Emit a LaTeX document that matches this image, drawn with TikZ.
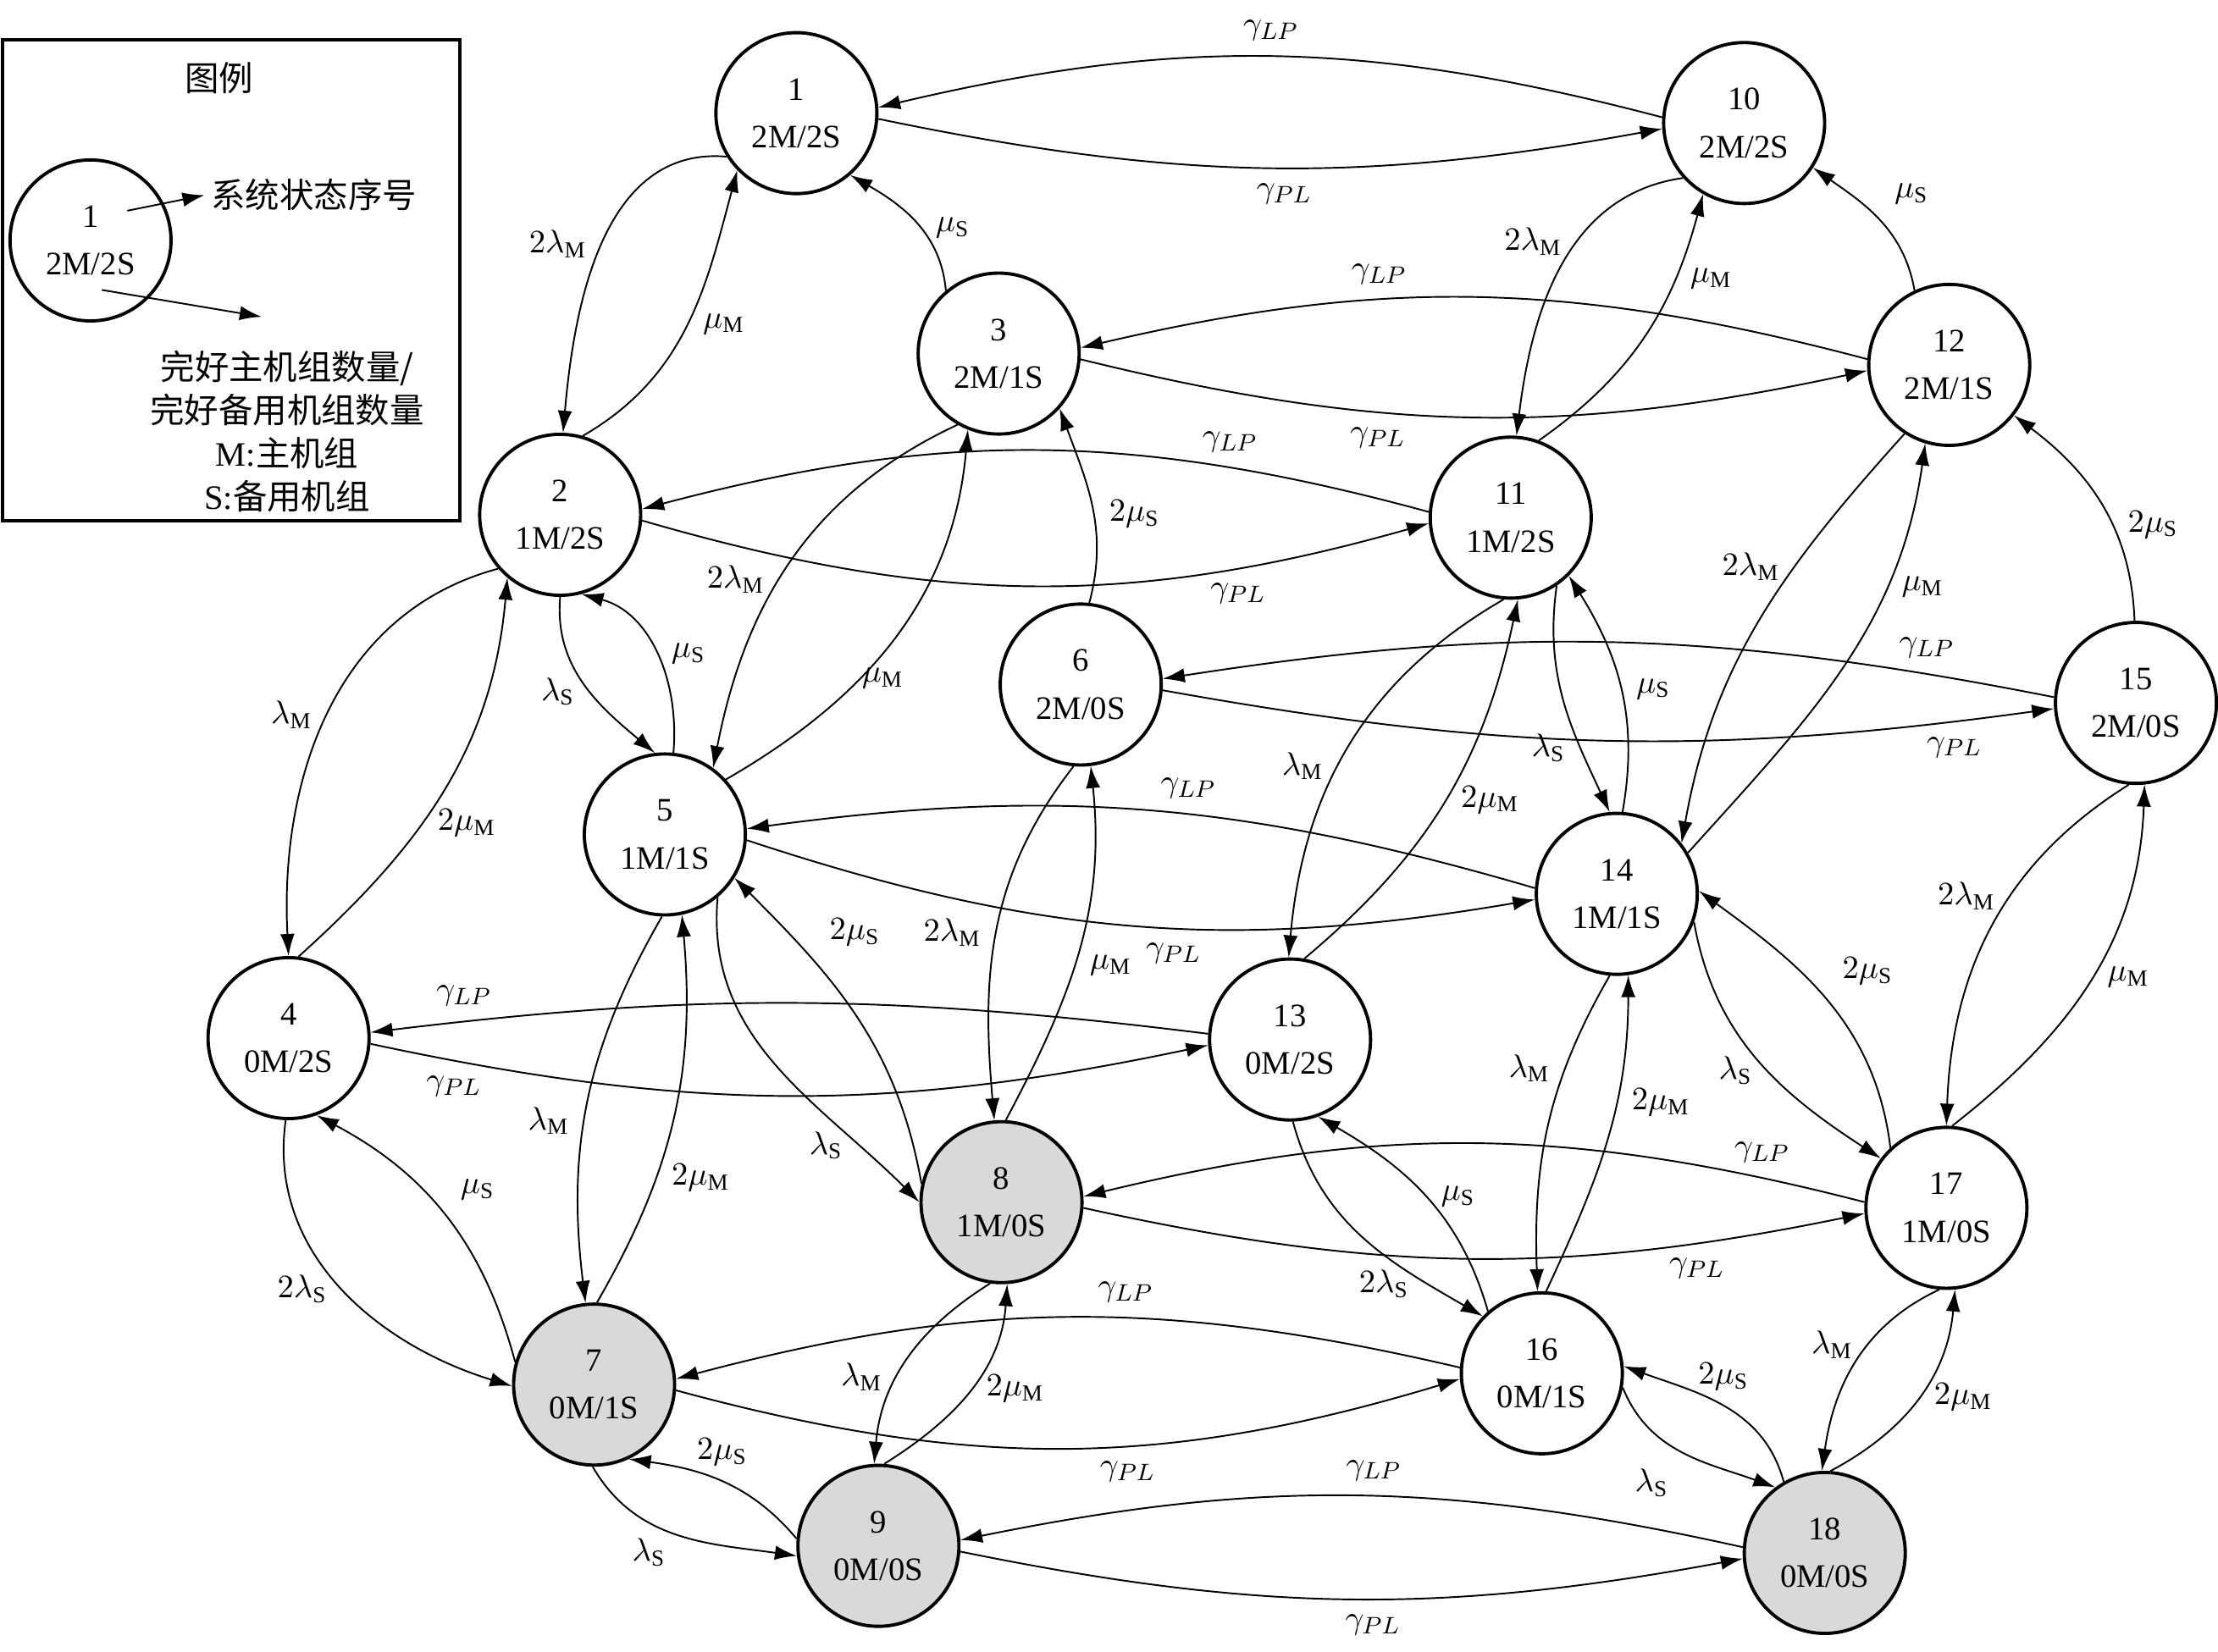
\documentclass[tikz,border=0pt]{standalone}
\usepackage{fontspec}
\setmainfont{Liberation Serif}
\newfontfamily\cjk{Noto Sans CJK SC}
\usetikzlibrary{arrows.meta}

\begin{document}
\begin{tikzpicture} [x=0.0167cm, y=-0.0167cm, >={Latex[length=2.6mm, width=1.7mm]}, line width=0.55pt,
	font=\fontsize{11}{13}\selectfont, inner sep=5pt,
	state/.style={draw, circle, line width=1.1pt, minimum size=1.9cm, inner sep=0pt, align=center, font=\fontsize{11}{16}\selectfont},
	failed/.style={state, fill=black!15}]
	%\draw [thin, help lines] (0,0) grid[step=100] (1568,1168);
	\useasboundingbox (0,0) rectangle (1568,1168);

	% legend
	\draw[line width=1.2pt] (2,28) rectangle (325,368);
	\node [inner sep=0pt] (lgtitle) at (155,55) {\cjk\fontsize{11.5}{14}\selectfont 图例};
	\node [state] (lgstate) at (64,170) {1\\2M/2S};
	\node [inner sep=2pt] (lgnum) at (222,138) {\cjk\fontsize{11.5}{14}\selectfont 系统状态序号};
	\node [inner sep=0pt, align=center, font=\fontsize{11.5}{14.5}\selectfont] (lgtext) at (203,305)
		{{\cjk 完好主机组数量/}\\{\cjk 完好备用机组数量}\\M:{\cjk 主机组}\\S:{\cjk 备用机组}};
	\coordinate (lga) at (90,149);
	\coordinate (lgb) at (72,205);
	\coordinate (lgc) at (185,224);
	\draw[->] (lga) -- (lgnum.west);
	\draw[->] (lgb) -- (lgc);

	% states
	\node [state] (n1) at (563,80) {1\\2M/2S};
	\node [state] (n2) at (396,364) {2\\1M/2S};
	\node [state] (n3) at (706,250) {3\\2M/1S};
	\node [state] (n4) at (204,734) {4\\0M/2S};
	\node [state] (n5) at (470,590) {5\\1M/1S};
	\node [state] (n6) at (764,484) {6\\2M/0S};
	\node [failed] (n7) at (420,979) {7\\0M/1S};
	\node [failed] (n8) at (708,850) {8\\1M/0S};
	\node [failed] (n9) at (621,1093) {9\\0M/0S};
	\node [state] (n10) at (1233,87) {10\\2M/2S};
	\node [state] (n11) at (1068,366) {11\\1M/2S};
	\node [state] (n12) at (1378,258) {12\\2M/1S};
	\node [state] (n13) at (912,735) {13\\0M/2S};
	\node [state] (n14) at (1143,632) {14\\1M/1S};
	\node [state] (n15) at (1510,497) {15\\2M/0S};
	\node [state] (n16) at (1090,971) {16\\0M/1S};
	\node [state] (n17) at (1376,854) {17\\1M/0S};
	\node [failed] (n18) at (1290,1098) {18\\0M/0S};

	% gamma transitions
	\draw[->] (n10.176) to[bend right=14] node [pos=0.5, above] {$\gamma_{LP}$} (n1.4);
	\draw[->] (n1.-4) to[bend right=11] node [pos=0.52, below] {$\gamma_{PL}$} (n10.184);
	\draw[->] (n12.176) to[bend right=14] node [pos=0.63, above] {$\gamma_{LP}$} (n3.4);
	\draw[->] (n3.-4) to[bend right=13] node [pos=0.37, below] {$\gamma_{PL}$} (n12.184);
	\draw[->] (n11.176) to[bend right=15] node [pos=0.24, above] {$\gamma_{LP}$} (n2.4);
	\draw[->] (n2.-4) to[bend right=16] node [pos=0.77, below] {$\gamma_{PL}$} (n11.184);
	\draw[->] (n15.176) to[bend right=10] node [pos=0.13, above] {$\gamma_{LP}$} (n6.4);
	\draw[->] (n6.-4) to[bend right=9] node [pos=0.9, below] {$\gamma_{PL}$} (n15.184);
	\draw[->] (n14.176) to[bend right=12] node [pos=0.44, above] {$\gamma_{LP}$} (n5.4);
	\draw[->] (n5.-4) to[bend right=14] node [pos=0.55, below] {$\gamma_{PL}$} (n14.184);
	\draw[->] (n13.176) to[bend right=7] node [pos=0.9, above] {$\gamma_{LP}$} (n4.4);
	\draw[->] (n4.-4) to[bend right=12] node [pos=0.09, below] {$\gamma_{PL}$} (n13.184);
	\draw[->] (n17.176) to[bend right=14] node [pos=0.12, above] {$\gamma_{LP}$} (n8.4);
	\draw[->] (n8.-4) to[bend right=12] node [pos=0.8, below] {$\gamma_{PL}$} (n17.184);
	\draw[->] (n16.176) to[bend right=14] node [pos=0.42, above] {$\gamma_{LP}$} (n7.4);
	\draw[->] (n7.-4) to[bend right=16] node [pos=0.58, below] {$\gamma_{PL}$} (n16.184);
	\draw[->] (n18.176) to[bend right=12] node [pos=0.47, above] {$\gamma_{LP}$} (n9.4);
	\draw[->] (n9.-4) to[bend right=11] node [pos=0.53, below] {$\gamma_{PL}$} (n18.184);

	% failures and repairs
	\draw[->] (n1.212) to[out=175, in=85] node [pos=0.5, left] {$2\lambda_{\mathrm{M}}$} (n2.88);
	\draw[->] (n2.74) to[out=30, in=255] node [pos=0.5, right] {$\mu_{\mathrm{M}}$} (n1.224);
	\draw[->] (n3.130) to[out=95, in=-30] node [pos=0.45, right] {$\mu_{\mathrm{S}}$} (n1.311);
	\draw[->] (n10.222) to[out=188, in=83] node [pos=0.4, left] {$2\lambda_{\mathrm{M}}$} (n11.86);
	\draw[->] (n11.70) to[out=35, in=255] node [pos=0.72, right] {$\mu_{\mathrm{M}}$} (n10.240);
	\draw[->] (n12.115) to[out=100, in=-35] node [pos=0.5, above right] {$\mu_{\mathrm{S}}$} (n10.327);
	\draw[->] (n6.84) to[out=75, in=290] node [pos=0.45, right] {$2\mu_{\mathrm{S}}$} (n3.318);
	\draw[->] (n3.240) to[out=205, in=79] node [pos=0.55, left] {$2\lambda_{\mathrm{M}}$} (n5.54);
	\draw[->] (n5.42) to[out=30, in=265] node [pos=0.45, below] {$\mu_{\mathrm{M}}$} (n3.248);
	\draw[->] (n2.270) to[out=265, in=140] node [pos=0.55, left] {$\lambda_{\mathrm{S}}$} (n5.97);
	\draw[->] (n5.84) to[out=85, in=-15] node [pos=0.5, right] {$\mu_{\mathrm{S}}$} (n2.285);
	\draw[->] (n2.221) to[out=195, in=93] node [pos=0.5, left] {$\lambda_{\mathrm{M}}$} (n4.90);
	\draw[->] (n4.83) to[out=42, in=265] node [pos=0.4, right] {$2\mu_{\mathrm{M}}$} (n2.230);
	\draw[->] (n11.265) to[out=210, in=85] node [pos=0.55, left] {$\lambda_{\mathrm{M}}$} (n13.91);
	\draw[->] (n13.80) to[out=40, in=258] node [pos=0.5, right] {$2\mu_{\mathrm{M}}$} (n11.275);
	\draw[->] (n11.304) to[out=262, in=115] node [pos=0.72, left] {$\lambda_{\mathrm{S}}$} (n14.95);
	\draw[->] (n14.86) to[out=80, in=-58] node [pos=0.5, right] {$\mu_{\mathrm{S}}$} (n11.315);
	\draw[->] (n12.237) to[out=228, in=80] node [pos=0.35, left] {$2\lambda_{\mathrm{M}}$} (n14.38);
	\draw[->] (n14.30) to[out=48, in=262] node [pos=0.7, right] {$\mu_{\mathrm{M}}$} (n12.253);
	\draw[->] (n15.91) to[out=92, in=-37] node [pos=0.4, right] {$2\mu_{\mathrm{S}}$} (n12.322);
	\draw[->] (n15.265) to[out=212, in=88] node [pos=0.4, left] {$2\lambda_{\mathrm{M}}$} (n17.90);
	\draw[->] (n17.86) to[out=38, in=268] node [pos=0.5, right] {$\mu_{\mathrm{M}}$} (n15.276);
	\draw[->] (n6.265) to[out=232, in=95] node [pos=0.5, left] {$2\lambda_{\mathrm{M}}$} (n8.95);
	\draw[->] (n8.87) to[out=62, in=276] node [pos=0.45, right] {$\mu_{\mathrm{M}}$} (n6.277);
	\draw[->] (n5.310) to[out=265, in=135] node [pos=0.8, left] {$\lambda_{\mathrm{S}}$} (n8.180);
	\draw[->] (n8.167) to[out=100, in=-45] node [pos=0.7, above right] {$2\mu_{\mathrm{S}}$} (n5.328);
	\draw[->] (n5.268) to[out=240, in=97] node [pos=0.55, left] {$\lambda_{\mathrm{M}}$} (n7.96);
	\draw[->] (n7.88) to[out=60, in=275] node [pos=0.33, right] {$2\mu_{\mathrm{M}}$} (n5.282);
	\draw[->] (n4.268) to[out=262, in=163] node [pos=0.5, left] {$2\lambda_{\mathrm{S}}$} (n7.181);
	\draw[->] (n7.164) to[out=105, in=-28] node [pos=0.5, above right] {$\mu_{\mathrm{S}}$} (n4.290);
	\draw[->] (n14.340) to[out=280, in=147] node [pos=0.55, left] {$\lambda_{\mathrm{S}}$} (n17.143);
	\draw[->] (n17.133) to[out=97, in=-36] node [pos=0.5, above right] {$2\mu_{\mathrm{S}}$} (n14.2);
	\draw[->] (n14.265) to[out=240, in=92] node [pos=0.3, left] {$\lambda_{\mathrm{M}}$} (n16.93);
	\draw[->] (n16.87) to[out=65, in=270] node [pos=0.62, right] {$2\mu_{\mathrm{M}}$} (n14.278);
	\draw[->] (n13.272) to[out=285, in=150] node [pos=0.6, below] {$2\lambda_{\mathrm{S}}$} (n16.136);
	\draw[->] (n16.131) to[out=106, in=-30] node [pos=0.5, right] {$\mu_{\mathrm{S}}$} (n13.290);
	\draw[->] (n8.262) to[out=212, in=85] node [pos=0.6, left] {$\lambda_{\mathrm{M}}$} (n9.93);
	\draw[->] (n9.86) to[out=32, in=266] node [pos=0.5, right] {$2\mu_{\mathrm{M}}$} (n8.274);
	\draw[->] (n7.269) to[out=300, in=172] node [pos=0.35, below] {$\lambda_{\mathrm{S}}$} (n9.187);
	\draw[->] (n9.175) to[out=130, in=-8] node [pos=0.5, above] {$2\mu_{\mathrm{S}}$} (n7.295);
	\draw[->] (n16.350) to[out=292, in=160] node [pos=0.5, below left] {$\lambda_{\mathrm{S}}$} (n18.127);
	\draw[->] (n18.120) to[out=105, in=-20] node [pos=0.5, above] {$2\mu_{\mathrm{S}}$} (n16.5);
	\draw[->] (n17.265) to[out=205, in=82] node [pos=0.4, left] {$\lambda_{\mathrm{M}}$} (n18.92);
	\draw[->] (n18.86) to[out=28, in=265] node [pos=0.5, right] {$2\mu_{\mathrm{M}}$} (n17.276);
\end{tikzpicture}
\end{document}
